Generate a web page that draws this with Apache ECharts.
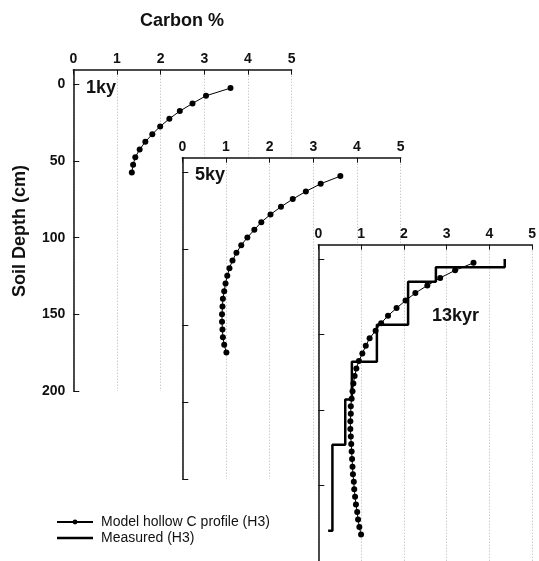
<!DOCTYPE html>
<html>
<head>
<meta charset="utf-8">
<script src="https://cdn.jsdelivr.net/npm/echarts@6/dist/echarts.min.js"></script>
<style>
html, body { margin: 0; padding: 0; background: #fff; }
#chart { width: 539px; height: 561px; }
</style>
</head>
<body>
<div id="chart"></div>
<script>
// tick values
const depthTicks = [0, 50, 100, 150, 200];

// model profile, 1 ky
const depth1ky = [2.5, 7.5, 12.5, 17.5, 22.5, 27.5, 32.5, 37.5, 42.5, 47.5, 52.5, 57.5];
const carbon1ky = [3.60, 3.04, 2.73, 2.44, 2.20, 1.99, 1.81, 1.65, 1.52, 1.42, 1.37, 1.34];

// model profile, 5 ky
const depth5ky = [2.5, 7.5, 12.5, 17.5, 22.5, 27.5, 32.5, 37.5, 42.5, 47.5, 52.5, 57.5,
    62.5, 67.5, 72.5, 77.5, 82.5, 87.5, 92.5, 97.5, 102.5, 107.5, 112.5, 117.5];
const carbon5ky = [3.62, 3.17, 2.83, 2.53, 2.26, 2.02, 1.81, 1.65, 1.49, 1.35, 1.24, 1.15,
    1.08, 1.03, 0.99, 0.96, 0.93, 0.92, 0.91, 0.91, 0.92, 0.93, 0.96, 1.01];

// model profile, 13 kyr
const depth13kyr = [2.5, 7.5, 12.5, 17.5, 22.5, 27.5, 32.5, 37.5, 42.5, 47.5, 52.5, 57.5,
    62.5, 67.5, 72.5, 77.5, 82.5, 87.5, 92.5, 97.5, 102.5, 107.5, 112.5, 117.5,
    122.5, 127.5, 132.5, 137.5, 142.5, 147.5, 152.5, 157.5, 162.5, 167.5, 172.5, 177.5, 182.5];
const carbon13kyr = [3.63, 3.20, 2.85, 2.55, 2.27, 2.04, 1.83, 1.63, 1.47, 1.34, 1.20, 1.11,
    1.03, 0.95, 0.89, 0.85, 0.82, 0.80, 0.78, 0.76, 0.76, 0.75, 0.75, 0.76,
    0.77, 0.78, 0.79, 0.80, 0.81, 0.83, 0.84, 0.86, 0.88, 0.91, 0.93, 0.96, 1.00];

// measured horizons (H3): boundaries and carbon of each horizon
const measuredDepth = [0, 5.5, 15, 43.5, 68, 93, 123, 180];
const measuredCarbon = [4.36, 2.75, 2.10, 1.37, 0.785, 0.63, 0.33, 0.23];

const FONT = 'Liberation Sans, Arial, Helvetica, sans-serif';
const MODEL = 'Model hollow C profile (H3)';
const MEASURED = 'Measured (H3)';

const panels = [
    { left: 73.3, top: 69.7 },
    { left: 182.3, top: 157.7 },
    { left: 318.3, top: 244.7 }
];
const panelW = 218.3;
const panelH = 321.4;

const chart = echarts.init(document.getElementById('chart'));

const grids = [];
const xAxes = [];
const yAxes = [];
panels.forEach((p, i) => {
    const z = i * 10;
    grids.push({
        left: p.left, top: p.top, width: panelW, height: panelH,
        show: i > 0, backgroundColor: '#fff', borderWidth: 0, z: z
    });
    xAxes.push({
        gridIndex: i, type: 'value', position: 'top', min: 0, max: 5, interval: 1, z: z + 1,
        axisLine: { show: true, onZero: false, lineStyle: { color: '#111', width: 1.5 } },
        axisTick: { show: true, inside: true, length: 5, lineStyle: { color: '#111' } },
        axisLabel: { fontSize: 14, fontWeight: 'bold', fontFamily: FONT, color: '#111', margin: 4 },
        splitLine: { show: true, lineStyle: { color: '#b4b4b4', width: 1, type: [1, 2] } }
    });
    yAxes.push({
        gridIndex: i, type: 'value', inverse: true, min: -9.5, max: 200, z: z + 1,
        axisLine: { show: true, onZero: false, lineStyle: { color: '#111', width: 1.5 } },
        axisTick: { show: true, inside: true, length: 6, customValues: depthTicks, lineStyle: { color: '#111' } },
        axisLabel: {
            show: i === 0, customValues: depthTicks, fontSize: 14, fontWeight: 'bold',
            fontFamily: FONT, color: '#111', margin: 8
        },
        splitLine: { show: false }
    });
});

function modelSeries(i, carbon, depth) {
    return {
        name: MODEL, type: 'line', xAxisIndex: i, yAxisIndex: i, z: i * 10 + 2,
        data: carbon.map((c, k) => [c, depth[k]]),
        symbol: 'circle', symbolSize: 6, showSymbol: true,
        itemStyle: { color: '#000' },
        lineStyle: { color: '#000', width: 1 },
        animation: false
    };
}

// step outline of the measured horizons
const measuredLine = [];
measuredCarbon.forEach((c, k) => {
    measuredLine.push([c, measuredDepth[Math.min(k, measuredDepth.length - 1)]]);
    if (k + 1 < measuredDepth.length) measuredLine.push([c, measuredDepth[k + 1]]);
});

chart.setOption({
    animation: false,
    title: {
        text: 'Carbon %', left: 140, top: 12, padding: 0,
        textStyle: { fontSize: 18, fontWeight: 'bold', fontFamily: FONT, color: '#111' }
    },
    legend: {
        left: 56, top: 514, orient: 'vertical', padding: 0,
        itemWidth: 36, itemHeight: 6, itemGap: 0,
        data: [
            { name: MODEL },
            { name: MEASURED, icon: 'path://M0,0H36V2.5H0Z' }
        ],
        textStyle: { fontSize: 14, fontFamily: FONT, color: '#111', padding: [0, 0, 0, 3], lineHeight: 16 }
    },
    grid: grids,
    xAxis: xAxes,
    yAxis: yAxes,
    graphic: [
        { type: 'text', x: 20, y: 231, rotation: Math.PI / 2, z: 100,
          style: { text: 'Soil Depth (cm)', fontSize: 18, fontWeight: 'bold', fontFamily: FONT,
                   fill: '#111', textAlign: 'center', textVerticalAlign: 'middle' } },
        { type: 'text', x: 86, y: 88, z: 100,
          style: { text: '1ky', fontSize: 18, fontWeight: 'bold', fontFamily: FONT,
                   fill: '#111', textAlign: 'left', textVerticalAlign: 'middle' } },
        { type: 'text', x: 195, y: 175, z: 100,
          style: { text: '5ky', fontSize: 18, fontWeight: 'bold', fontFamily: FONT,
                   fill: '#111', textAlign: 'left', textVerticalAlign: 'middle' } },
        { type: 'text', x: 432, y: 316, z: 100,
          style: { text: '13kyr', fontSize: 18, fontWeight: 'bold', fontFamily: FONT,
                   fill: '#111', textAlign: 'left', textVerticalAlign: 'middle' } }
    ],
    series: [
        modelSeries(0, carbon1ky, depth1ky),
        modelSeries(1, carbon5ky, depth5ky),
        {
            name: MEASURED, type: 'line', xAxisIndex: 2, yAxisIndex: 2, z: 22,
            data: measuredLine, symbol: 'none', showSymbol: false,
            itemStyle: { color: '#000' },
            lineStyle: { color: '#000', width: 2.5 },
            animation: false
        },
        modelSeries(2, carbon13kyr, depth13kyr)
    ]
});
</script>
</body>
</html>
